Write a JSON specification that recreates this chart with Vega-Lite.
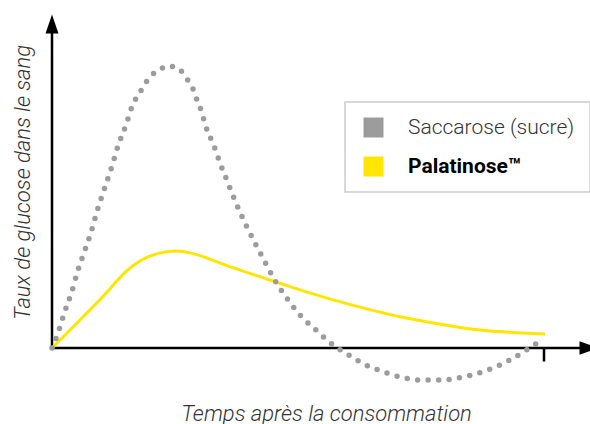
{
  "$schema": "https://vega.github.io/schema/vega-lite/v6.json",
  "width": 538,
  "height": 380,
  "autosize": "none",
  "padding": {"left": 52, "top": 10, "right": 0, "bottom": 34},
  "background": "white",
  "config": {"view": {"stroke": null}},
  "datasets": {
    "curves": [
      {"series": "Saccarose (sucre)", "x": 0, "y": 0},
      {"series": "Saccarose (sucre)", "x": 6, "y": 15},
      {"series": "Saccarose (sucre)", "x": 13, "y": 37},
      {"series": "Saccarose (sucre)", "x": 20, "y": 57},
      {"series": "Saccarose (sucre)", "x": 26, "y": 78},
      {"series": "Saccarose (sucre)", "x": 33, "y": 98},
      {"series": "Saccarose (sucre)", "x": 40, "y": 119},
      {"series": "Saccarose (sucre)", "x": 46, "y": 140},
      {"series": "Saccarose (sucre)", "x": 53, "y": 161},
      {"series": "Saccarose (sucre)", "x": 60, "y": 182},
      {"series": "Saccarose (sucre)", "x": 66, "y": 202},
      {"series": "Saccarose (sucre)", "x": 74, "y": 223},
      {"series": "Saccarose (sucre)", "x": 81, "y": 244},
      {"series": "Saccarose (sucre)", "x": 87, "y": 254},
      {"series": "Saccarose (sucre)", "x": 91, "y": 261},
      {"series": "Saccarose (sucre)", "x": 98, "y": 271},
      {"series": "Saccarose (sucre)", "x": 107, "y": 278},
      {"series": "Saccarose (sucre)", "x": 117, "y": 282},
      {"series": "Saccarose (sucre)", "x": 128, "y": 278},
      {"series": "Saccarose (sucre)", "x": 135, "y": 269},
      {"series": "Saccarose (sucre)", "x": 141, "y": 259},
      {"series": "Saccarose (sucre)", "x": 145, "y": 248},
      {"series": "Saccarose (sucre)", "x": 149, "y": 238},
      {"series": "Saccarose (sucre)", "x": 154, "y": 221},
      {"series": "Saccarose (sucre)", "x": 162, "y": 202},
      {"series": "Saccarose (sucre)", "x": 168, "y": 185},
      {"series": "Saccarose (sucre)", "x": 176, "y": 165},
      {"series": "Saccarose (sucre)", "x": 184, "y": 145},
      {"series": "Saccarose (sucre)", "x": 193, "y": 125},
      {"series": "Saccarose (sucre)", "x": 203, "y": 105},
      {"series": "Saccarose (sucre)", "x": 213, "y": 86},
      {"series": "Saccarose (sucre)", "x": 222, "y": 69},
      {"series": "Saccarose (sucre)", "x": 234, "y": 51},
      {"series": "Saccarose (sucre)", "x": 248, "y": 33},
      {"series": "Saccarose (sucre)", "x": 264, "y": 18},
      {"series": "Saccarose (sucre)", "x": 281, "y": 3},
      {"series": "Saccarose (sucre)", "x": 295, "y": -6},
      {"series": "Saccarose (sucre)", "x": 314, "y": -17},
      {"series": "Saccarose (sucre)", "x": 335, "y": -25},
      {"series": "Saccarose (sucre)", "x": 348, "y": -29},
      {"series": "Saccarose (sucre)", "x": 368, "y": -32},
      {"series": "Saccarose (sucre)", "x": 390, "y": -32},
      {"series": "Saccarose (sucre)", "x": 411, "y": -29},
      {"series": "Saccarose (sucre)", "x": 433, "y": -23},
      {"series": "Saccarose (sucre)", "x": 454, "y": -14},
      {"series": "Saccarose (sucre)", "x": 473, "y": -3},
      {"series": "Saccarose (sucre)", "x": 482, "y": 3},
      {"series": "Saccarose (sucre)", "x": 492, "y": 9},
      {"series": "Palatinose™", "x": 0, "y": 0},
      {"series": "Palatinose™", "x": 21, "y": 21},
      {"series": "Palatinose™", "x": 48, "y": 48},
      {"series": "Palatinose™", "x": 62, "y": 64},
      {"series": "Palatinose™", "x": 75, "y": 78},
      {"series": "Palatinose™", "x": 88, "y": 88},
      {"series": "Palatinose™", "x": 105, "y": 95},
      {"series": "Palatinose™", "x": 123, "y": 98},
      {"series": "Palatinose™", "x": 141, "y": 95},
      {"series": "Palatinose™", "x": 155, "y": 90},
      {"series": "Palatinose™", "x": 181, "y": 80},
      {"series": "Palatinose™", "x": 215, "y": 69},
      {"series": "Palatinose™", "x": 248, "y": 58},
      {"series": "Palatinose™", "x": 281, "y": 48},
      {"series": "Palatinose™", "x": 315, "y": 39},
      {"series": "Palatinose™", "x": 348, "y": 31},
      {"series": "Palatinose™", "x": 381, "y": 25},
      {"series": "Palatinose™", "x": 415, "y": 19},
      {"series": "Palatinose™", "x": 448, "y": 16},
      {"series": "Palatinose™", "x": 493, "y": 14}
    ],
    "axes": [
      {"part": "y-axis", "x": 0, "y": 0, "x2": 0, "y2": 318},
      {"part": "x-axis", "x": 0, "y": 0, "x2": 530, "y2": 0},
      {"part": "tick", "x": 492, "y": 0, "x2": 492, "y2": -13.5}
    ],
    "arrows": [
      {"dir": "up", "x": 0, "y": 324},
      {"dir": "right", "x": 537, "y": 0}
    ]
  },
  "layer": [
    {
      "data": {"name": "axes"},
      "mark": {"type": "rule", "color": "black", "strokeWidth": 2.5},
      "encoding": {
        "x": {"field": "x", "type": "quantitative", "scale": {"domain": [0, 538], "nice": false, "zero": false},
          "axis": {"domain": false, "ticks": false, "labels": false, "grid": false,
            "title": "Temps après la consommation", "titleFont": "Roboto", "titleFontStyle": "italic", "titleFontWeight": 300,
            "titleFontSize": 22, "titleColor": "#333", "titleX": 274, "titleY": 30, "titleAlign": "center", "titleBaseline": "alphabetic", "titleAnchor": null}},
        "y": {"field": "y", "type": "quantitative", "scale": {"domain": [-42, 338], "nice": false, "zero": false},
          "axis": {"domain": false, "ticks": false, "labels": false, "grid": false,
            "title": "Taux de glucose dans le sang", "titleFont": "Roboto", "titleFontStyle": "italic", "titleFontWeight": 300,
            "titleFontSize": 22, "titleColor": "#333", "titleX": -23, "titleY": 172, "titleAngle": 270, "titleAlign": "center", "titleBaseline": "alphabetic", "titleAnchor": null}},
        "x2": {"field": "x2"},
        "y2": {"field": "y2"}
      }
    },
    {
      "data": {"name": "arrows"},
      "transform": [{"filter": "datum.dir === 'up'"}],
      "mark": {"type": "point", "filled": true, "color": "black", "opacity": 1, "size": 361, "shape": "M0,-1L0.68,1L-0.68,1Z"},
      "encoding": {
        "x": {"field": "x", "type": "quantitative"},
        "y": {"field": "y", "type": "quantitative"}
      }
    },
    {
      "data": {"name": "arrows"},
      "transform": [{"filter": "datum.dir === 'right'"}],
      "mark": {"type": "point", "filled": true, "color": "black", "opacity": 1, "size": 361, "shape": "M1,0L-1,0.72L-1,-0.72Z"},
      "encoding": {
        "x": {"field": "x", "type": "quantitative"},
        "y": {"field": "y", "type": "quantitative"}
      }
    },
    {
      "data": {"name": "curves"},
      "transform": [{"filter": "datum.series === 'Palatinose™'"}],
      "mark": {"type": "line", "strokeWidth": 3, "interpolate": "basis"},
      "encoding": {
        "x": {"field": "x", "type": "quantitative"},
        "y": {"field": "y", "type": "quantitative"},
        "color": {"field": "series", "type": "nominal"}
      }
    },
    {
      "data": {"name": "curves"},
      "transform": [{"filter": "datum.series === 'Saccarose (sucre)'"}],
      "mark": {"type": "line", "strokeWidth": 5.5, "strokeDash": [0, 10.5], "strokeCap": "round", "interpolate": "monotone"},
      "encoding": {
        "x": {"field": "x", "type": "quantitative"},
        "y": {"field": "y", "type": "quantitative"},
        "color": {
          "field": "series", "type": "nominal",
          "scale": {"domain": ["Saccarose (sucre)", "Palatinose™"], "range": ["#9c9c9c", "#FFE600"]},
          "legend": {
            "title": null, "orient": "none", "legendX": 293, "legendY": 92,
            "padding": 15, "symbolOffset": 3, "symbolType": "square", "symbolSize": 400,
            "labelOffset": 24, "rowPadding": 17, "labelFont": "Roboto", "labelFontSize": 21, "labelLimit": 400,
            "encode": {
              "legend": {"update": {"stroke": {"value": "#cccccc"}, "strokeWidth": {"value": 1.5}, "fill": {"value": "white"}}},
              "symbols": {"update": {"fill": {"scale": "color", "field": "value"}, "strokeWidth": {"value": 0}, "strokeDash": {"value": []}, "opacity": {"value": 1}, "fillOpacity": {"value": 1}}},
              "labels": {"update": {"fontWeight": {"signal": "datum.value === 'Palatinose™' ? 'bold' : 300"}, "fill": {"signal": "datum.value === 'Palatinose™' ? '#000' : '#333'"}}}
            }
          }
        }
      }
    }
  ]
}
